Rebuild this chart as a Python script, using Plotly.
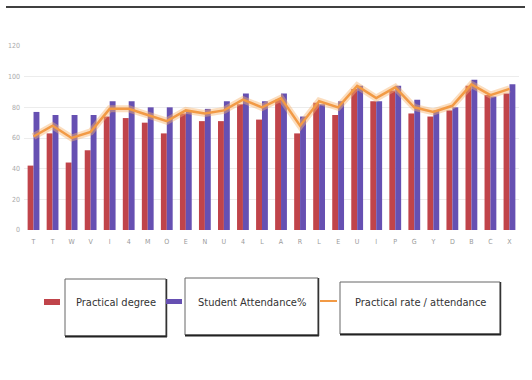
import plotly.graph_objects as go

categories = ["T", "T", "W", "V", "I", "4", "M", "O", "E", "N", "U", "4", "L",
              "A", "R", "L", "E", "U", "I", "P", "G", "Y", "D", "B", "C", "X"]
practical_degree = [42, 63, 44, 52, 74, 73, 70, 63, 76, 71, 71, 82, 72,
                    85, 63, 83, 75, 92, 84, 91, 76, 74, 78, 94, 88, 89]
attendance = [77, 75, 75, 75, 84, 84, 80, 80, 77, 79, 84, 89, 84,
              89, 74, 82, 84, 94, 84, 94, 85, 78, 80, 98, 87, 95]
rate = [61, 68, 60, 64, 79, 79, 75, 71, 78, 76, 78, 85, 80,
        86, 68, 84, 80, 94, 86, 93, 80, 77, 81, 95, 88, 92]
y_ticks = [0, 20, 40, 60, 80, 100, 120]

x = list(range(len(categories)))

fig = go.Figure()
fig.add_trace(go.Bar(x=x, y=practical_degree, name="Practical degree",
                     marker=dict(color="#C0444A", line=dict(width=0))))
fig.add_trace(go.Bar(x=x, y=attendance, name="Student Attendance%",
                     marker=dict(color="#6650B2", line=dict(width=0))))
fig.add_trace(go.Scatter(x=x, y=rate, mode="lines", showlegend=False,
                         line=dict(color="rgba(247,180,110,0.45)", width=7),
                         hoverinfo="skip"))
fig.add_trace(go.Scatter(x=x, y=rate, mode="lines", name="Practical rate / attendance",
                         line=dict(color="#F29A45", width=2.5)))

fig.update_layout(
    width=532, height=380,
    margin=dict(l=24, r=13, t=46, b=150),
    paper_bgcolor="white", plot_bgcolor="white",
    showlegend=False,
    barmode="group", bargap=0.38, bargroupgap=0.0,
    font=dict(family="DejaVu Sans Condensed, Liberation Sans Narrow, Arial", color="#333"),
)
fig.update_xaxes(
    tickmode="array", tickvals=x, ticktext=categories,
    range=[-0.5, len(categories) - 0.5], automargin=False,
    tickfont=dict(size=7, color="#999"), showgrid=False, zeroline=False,
    showline=False, ticks="", ticklabelstandoff=6,
)
fig.update_yaxes(
    range=[0, 120], tickmode="array", tickvals=y_ticks, automargin=False,
    tickfont=dict(size=7, color="#aaa"), showgrid=True, gridcolor="#ececec",
    gridwidth=1, zeroline=False, showline=False, ticks="", ticklabelstandoff=3,
)

# top rule
fig.add_shape(type="line", xref="paper", yref="paper",
              x0=(6 - 24) / 495, x1=(525 - 24) / 495,
              y0=1 + (46 - 7) / 184, y1=1 + (46 - 7) / 184,
              line=dict(color="black", width=1.5))

# custom legend (pixel helpers in paper coords)
def px(xp):
    return (xp - 24) / 495

def py(yp):
    return (230 - yp) / 184

boxes = [
    (65, 166, 279, 336, "Practical degree"),
    (185, 318, 278, 335, "Student Attendance%"),
    (340, 500, 282, 334, "Practical rate / attendance"),
]
for x0, x1, y0, y1, label in boxes:
    fig.add_shape(type="rect", xref="paper", yref="paper",
                  x0=px(x0), x1=px(x1), y0=py(y1), y1=py(y0),
                  line=dict(color="#666", width=1), fillcolor="white")
    fig.add_shape(type="line", xref="paper", yref="paper",
                  x0=px(x0), x1=px(x1 + 1), y0=py(y1 + 0.5), y1=py(y1 + 0.5),
                  line=dict(color="#222", width=2))
    fig.add_shape(type="line", xref="paper", yref="paper",
                  x0=px(x1 + 0.5), x1=px(x1 + 0.5), y0=py(y0), y1=py(y1 + 1),
                  line=dict(color="#333", width=1.5))
    fig.add_annotation(xref="paper", yref="paper", x=px((x0 + x1) / 2), y=py(302),
                       text=label, showarrow=False, xanchor="center", yanchor="middle",
                       font=dict(size=11, color="#333",
                                 family="DejaVu Sans Condensed, Liberation Sans Narrow, Arial"))

# legend symbols
fig.add_shape(type="rect", xref="paper", yref="paper",
              x0=px(44), x1=px(60), y0=py(305), y1=py(299),
              line=dict(width=0), fillcolor="#C0444A")
fig.add_shape(type="rect", xref="paper", yref="paper",
              x0=px(166), x1=px(182), y0=py(304), y1=py(299),
              line=dict(width=0), fillcolor="#6650B2")
fig.add_shape(type="line", xref="paper", yref="paper",
              x0=px(320), x1=px(337), y0=py(301), y1=py(301),
              line=dict(color="#F29A45", width=2))

fig.write_html("out.html")
